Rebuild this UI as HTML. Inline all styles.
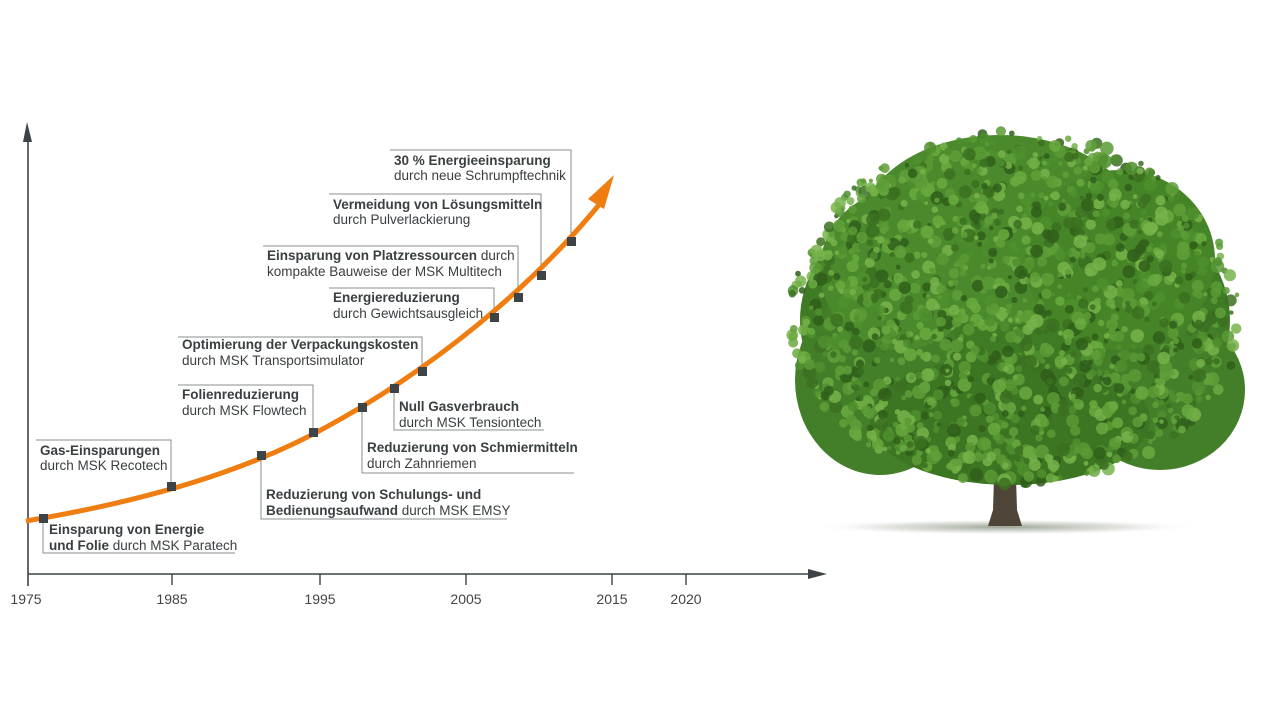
<!DOCTYPE html>
<html><head><meta charset="utf-8"><style>
html,body{margin:0;padding:0;background:#fff;}
svg{display:block}
text{font-family:"Liberation Sans",Arial,sans-serif;font-size:13.5px;fill:#3a3f42;}
.b{font-weight:bold;}
.y{font-size:14px;fill:#444;}
</style></head><body>
<svg width="1280" height="720" viewBox="0 0 1280 720" xmlns="http://www.w3.org/2000/svg">
<defs>
<radialGradient id="sh" cx="0.5" cy="0.5" r="0.5">
<stop offset="0" stop-color="#6f7a66" stop-opacity="0.7"/>
<stop offset="0.6" stop-color="#a8b0a2" stop-opacity="0.35"/>
<stop offset="1" stop-color="#fff" stop-opacity="0"/>
</radialGradient>
</defs>
<line x1="28" y1="138" x2="28" y2="586" stroke="#3d4347" stroke-width="1.6"/>
<polygon points="27,122 23,142 32,142" fill="#3d4347"/>
<line x1="28" y1="574" x2="812" y2="574" stroke="#3d4347" stroke-width="1.6"/>
<polygon points="827,574 808,569 808,579" fill="#3d4347"/>
<g stroke="#3d4347" stroke-width="1.4">
<line x1="172" y1="574" x2="172" y2="585"/><line x1="320" y1="574" x2="320" y2="585"/>
<line x1="466" y1="574" x2="466" y2="585"/><line x1="612" y1="574" x2="612" y2="585"/>
<line x1="686" y1="574" x2="686" y2="585"/>
</g>
<g text-anchor="middle">
<text class="y" x="26" y="604">1975</text><text class="y" x="172" y="604">1985</text>
<text class="y" x="320" y="604">1995</text><text class="y" x="466" y="604">2005</text>
<text class="y" x="612" y="604">2015</text><text class="y" x="686" y="604">2020</text>
</g>
<g stroke="#8a8f92" stroke-width="1" fill="none">
<polyline points="43,518 43,553 235,553"/>
<polyline points="36,440 171,440 171,486"/>
<polyline points="261,455 261,519 507,519"/>
<polyline points="178,385 313,385 313,432"/>
<polyline points="362,407 362,473 574,473"/>
<polyline points="394,388 394,430 544,430"/>
<polyline points="178,337 422,337 422,371"/>
<polyline points="329,288 494,288 494,317"/>
<polyline points="263,246 518,246 518,297"/>
<polyline points="329,194 541,194 541,275"/>
<polyline points="390,150 571,150 571,241"/>
</g>
<path d="M26,521 C150,500 250,470 330,425 C430,370 530,290 603,200" stroke="#ef7d0f" stroke-width="5" fill="none"/>
<polygon points="614,175 588,199 604,209" fill="#ef7d0f"/>
<g fill="#3d4347">
<rect x="39" y="514" width="9" height="9"/><rect x="167" y="482" width="9" height="9"/>
<rect x="257" y="451" width="9" height="9"/><rect x="309" y="428" width="9" height="9"/>
<rect x="358" y="403" width="9" height="9"/><rect x="390" y="384" width="9" height="9"/>
<rect x="418" y="367" width="9" height="9"/><rect x="490" y="313" width="9" height="9"/>
<rect x="514" y="293" width="9" height="9"/><rect x="537" y="271" width="9" height="9"/>
<rect x="567" y="237" width="9" height="9"/>
</g>
<text x="49" y="534"><tspan class="b">Einsparung von Energie</tspan></text>
<text x="49" y="550"><tspan class="b">und Folie</tspan> durch MSK Paratech</text>
<text x="40" y="455" class="b">Gas-Einsparungen</text>
<text x="40" y="470">durch MSK Recotech</text>
<text x="266" y="499" class="b">Reduzierung von Schulungs- und</text>
<text x="266" y="515"><tspan class="b">Bedienungsaufwand</tspan> durch MSK EMSY</text>
<text x="182" y="399" class="b">Folienreduzierung</text>
<text x="182" y="415">durch MSK Flowtech</text>
<text x="367" y="452" class="b">Reduzierung von Schmiermitteln</text>
<text x="367" y="468">durch Zahnriemen</text>
<text x="399" y="411" class="b">Null Gasverbrauch</text>
<text x="399" y="427">durch MSK Tensiontech</text>
<text x="182" y="349" class="b">Optimierung der Verpackungskosten</text>
<text x="182" y="365">durch MSK Transportsimulator</text>
<text x="333" y="302" class="b">Energiereduzierung</text>
<text x="333" y="318">durch Gewichtsausgleich</text>
<text x="267" y="260"><tspan class="b">Einsparung von Platzressourcen</tspan> durch</text>
<text x="267" y="276">kompakte Bauweise der MSK Multitech</text>
<text x="333" y="209" class="b">Vermeidung von Lösungsmitteln</text>
<text x="333" y="224">durch Pulverlackierung</text>
<text x="394" y="165" class="b">30 % Energieeinsparung</text>
<text x="394" y="180">durch neue Schrumpftechnik</text>
<ellipse cx="1005" cy="527" rx="195" ry="8" fill="url(#sh)"/>
<path d="M994,478 L993,510 L988,526 L1022,526 L1017,510 L1016,478 Z" fill="#4e4438"/>
<g>
<ellipse cx="1015" cy="320" rx="215" ry="150" fill="#3f7a25"/>
<ellipse cx="1000" cy="230" rx="140" ry="95" fill="#4a8a2c"/>
<ellipse cx="880" cy="380" rx="85" ry="95" fill="#437f28"/>
<ellipse cx="1160" cy="390" rx="85" ry="80" fill="#437f28"/>
<ellipse cx="1010" cy="420" rx="140" ry="65" fill="#3d7623"/>
<ellipse cx="1120" cy="260" rx="95" ry="90" fill="#468527"/>
<ellipse cx="900" cy="270" rx="80" ry="80" fill="#4a8a2c"/>
</g>
<g id="leaves"></g>
</svg>
<script>
(function(){
var g=document.getElementById('leaves');var s=7;function r(){s=(s*9301+49297)%233280;return s/233280;}
var cols=['#5a9a35','#6aaa40','#3b7020','#4f8f2e','#77b34a','#2f5e1a','#5f9f38'];
var out='';
for(var i=0;i<2000;i++){var x=790+r()*460,y=130+r()*355;
var dx=(x-1015)/225,dy=(y-320)/165;if(y<320)dy=(y-320)/190;
if(dx*dx+dy*dy>1)continue;
var rr=2+r()*5;out+='<circle cx="'+x.toFixed(1)+'" cy="'+y.toFixed(1)+'" r="'+rr.toFixed(1)+'" fill="'+cols[Math.floor(r()*cols.length)]+'" opacity="0.85"/>';}
g.innerHTML=out;})();
</script>
</body></html>
